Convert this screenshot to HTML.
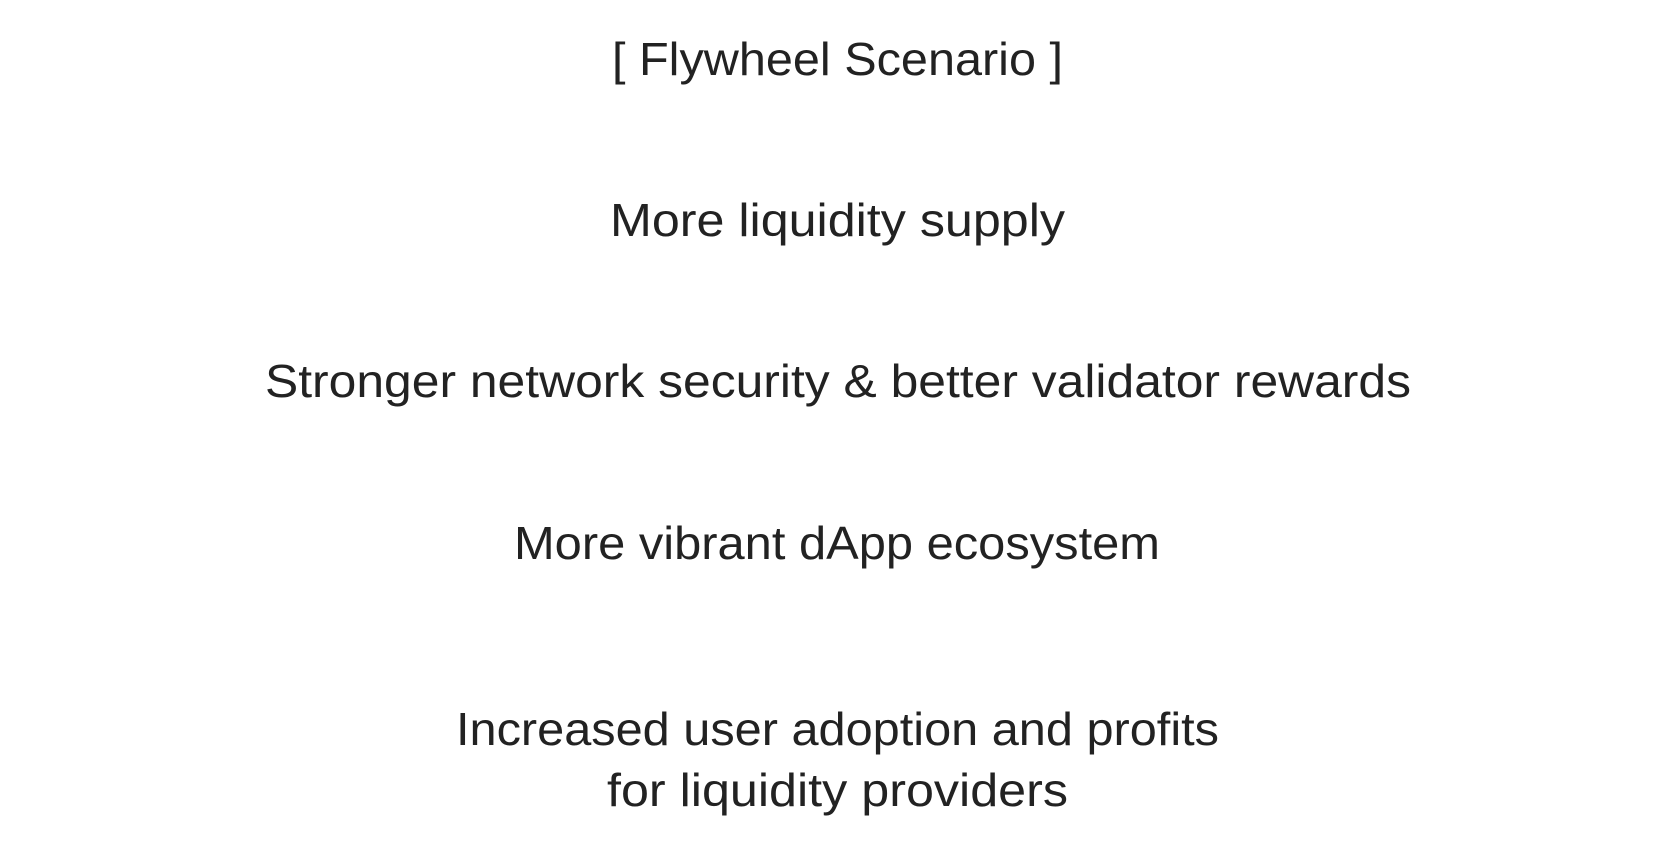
<!DOCTYPE html>
<html><head><meta charset="utf-8"><style>
html,body{margin:0;padding:0;background:#fff;}
svg{display:block}
text{font-family:"Liberation Sans",sans-serif;font-size:46px;fill:#222;}
</style></head><body>
<svg width="1669" height="847" viewBox="0 0 1669 847">
<text x="612" y="75" textLength="451" lengthAdjust="spacingAndGlyphs">[ Flywheel Scenario ]</text>
<text x="610" y="236" textLength="455" lengthAdjust="spacingAndGlyphs">More liquidity supply</text>
<text x="265" y="397" textLength="1146" lengthAdjust="spacingAndGlyphs">Stronger network security &amp; better validator rewards</text>
<text x="514" y="559" textLength="646" lengthAdjust="spacingAndGlyphs">More vibrant dApp ecosystem</text>
<text x="456" y="745" textLength="763" lengthAdjust="spacingAndGlyphs">Increased user adoption and profits</text>
<text x="607" y="806" textLength="461" lengthAdjust="spacingAndGlyphs">for liquidity providers</text>
</svg>
</body></html>
